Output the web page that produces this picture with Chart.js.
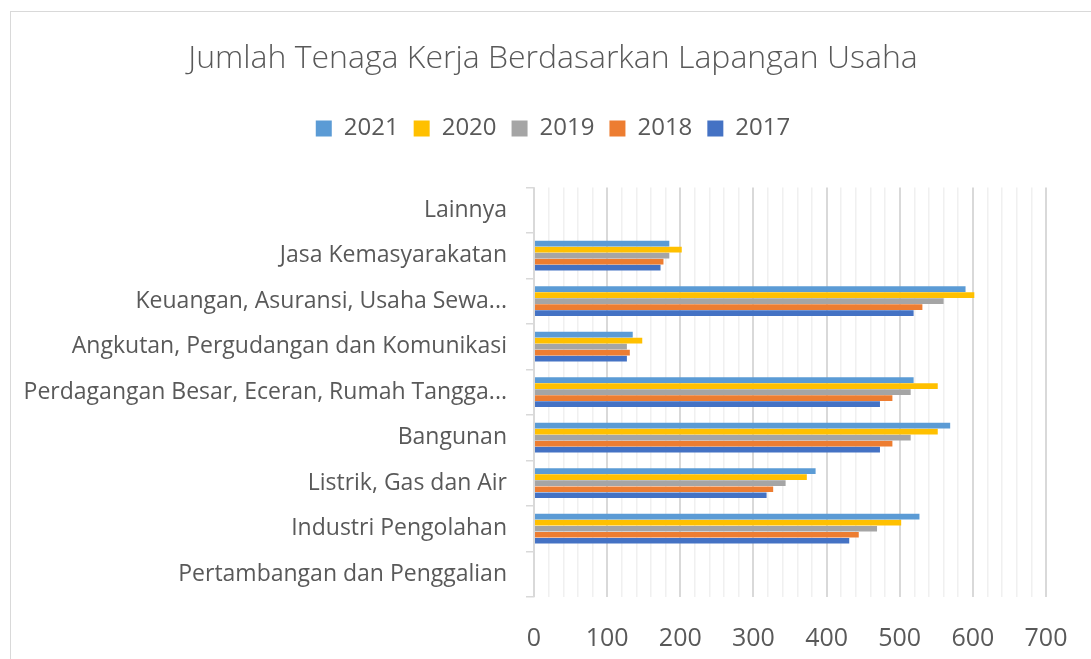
<!DOCTYPE html>
<html>
<head>
<meta charset="utf-8">
<script src="https://cdn.jsdelivr.net/npm/chart.js@4"></script>
<style>
  html, body { margin: 0; padding: 0; background: #fff; overflow: hidden; }
  #box {
    position: absolute; left: 10px; top: 11px;
    width: 1086px; height: 648px;
    border-left: 1px solid #d9d9d9; border-top: 1px solid #d9d9d9;
  }
</style>
</head>
<body>
<div id="box"><canvas id="myChart"></canvas></div>
<script>
// categories, top to bottom as shown
var categories = [
  'Lainnya',
  'Jasa Kemasyarakatan',
  'Keuangan, Asuransi, Usaha Sewa...',
  'Angkutan, Pergudangan dan Komunikasi',
  'Perdagangan Besar, Eceran, Rumah Tangga...',
  'Bangunan',
  'Listrik, Gas dan Air',
  'Industri Pengolahan',
  'Pertambangan dan Penggalian'
];
var years = ['2021', '2020', '2019', '2018', '2017'];
var v2021 = [0, 185, 590, 135, 519, 569, 385, 527, 0];
var v2020 = [0, 202, 602, 148, 552, 552, 373, 502, 0];
var v2019 = [0, 185, 560, 127, 515, 515, 344, 469, 0];
var v2018 = [0, 177, 531, 131, 490, 490, 327, 444, 0];
var v2017 = [0, 173, 519, 127, 473, 473, 318, 431, 0];
var xTicks = [0, 100, 200, 300, 400, 500, 600, 700];

var colors = ['#5B9BD5', '#FFC000', '#A5A5A5', '#ED7D31', '#4472C4'];
var series = [v2021, v2020, v2019, v2018, v2017];

var textColor = '#595959';
var fontFam = '"Open Sans", "Noto Sans", sans-serif';

// extra room under the legend
var legendGap = {
  id: 'legendGap',
  beforeInit: function (chart) {
    var fit = chart.legend.fit;
    chart.legend.fit = function () {
      fit.bind(chart.legend)();
      this.height += 37;
    };
  }
};

var ctx = document.getElementById('myChart');
var myChart = new Chart(ctx, {
  type: 'bar',
  data: {
    labels: categories,
    datasets: years.map(function (y, i) {
      return {
        label: y,
        data: series[i],
        backgroundColor: colors[i],
        borderWidth: 0,
        categoryPercentage: 0.66,
        barPercentage: 0.95
      };
    })
  },
  options: {
    indexAxis: 'y',
    responsive: true,
    maintainAspectRatio: false,
    animation: false,
    layout: { padding: { left: 10, right: 12, top: 0, bottom: 0 } },
    plugins: {
      title: {
        display: true,
        text: 'Jumlah Tenaga Kerja Berdasarkan Lapangan Usaha',
        color: textColor,
        font: { family: fontFam, size: 32, weight: '300' },
        padding: { top: 28, bottom: 23 }
      },
      legend: {
        position: 'top',
        labels: {
          color: textColor,
          font: { family: fontFam, size: 24 },
          boxWidth: 16,
          boxHeight: 16,
          padding: 15
        }
      },
      tooltip: { enabled: false }
    },
    scales: {
      x: {
        min: 0,
        max: 700,
        afterBuildTicks: function (axis) {
          var t = [];
          for (var v = 0; v <= 700; v += 20) t.push({ value: v });
          axis.ticks = t;
        },
        afterFit: function (axis) {
          axis.height = 63;
          axis.paddingRight = 51;
        },
        border: { display: false },
        grid: {
          drawTicks: false,
          color: function (c) {
            return c.tick && c.tick.value % 100 === 0 ? '#d9d9d9' : '#f0f0f0';
          },
          lineWidth: function (c) {
            return c.tick && c.tick.value % 100 === 0 ? 2 : 1.5;
          }
        },
        ticks: {
          autoSkip: false,
          maxRotation: 0,
          color: textColor,
          padding: 27,
          font: { family: fontFam, size: 25 },
          callback: function (v) {
            return xTicks.indexOf(v) >= 0 ? String(v) : '';
          }
        }
      },
      y: {
        afterFit: function (axis) { axis.width = 513; },
        border: { display: true, color: '#d9d9d9', width: 1.5 },
        grid: {
          drawOnChartArea: false,
          tickLength: 8,
          color: '#d9d9d9',
          lineWidth: 1.5
        },
        ticks: {
          color: textColor,
          padding: 19,
          font: { family: fontFam, size: 23 }
        }
      }
    }
  },
  plugins: [legendGap]
});
</script>
</body>
</html>
